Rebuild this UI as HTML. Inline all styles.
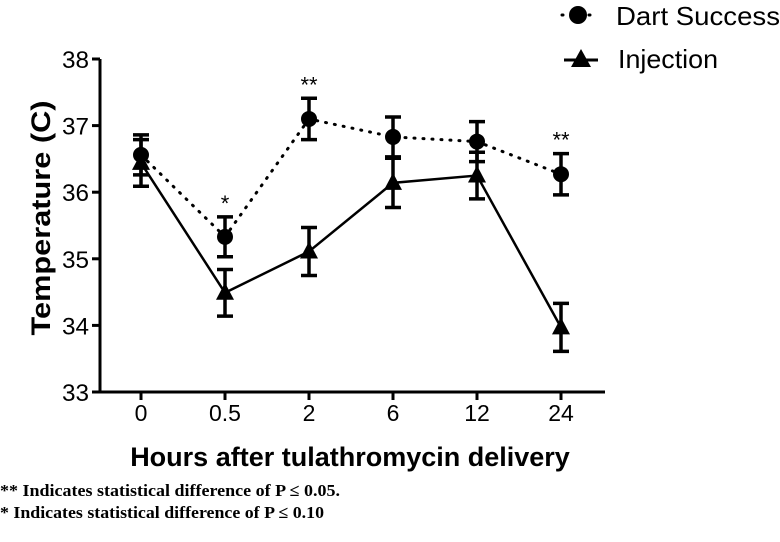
<!DOCTYPE html>
<html><head><meta charset="utf-8"><style>
body{margin:0;background:#fff;width:780px;height:537px;overflow:hidden}
svg text{font-family:"Liberation Sans",sans-serif}
</style></head><body>
<svg width="780" height="537" viewBox="0 0 780 537">
<g id="chart"></g>
<text x="0" y="496" style="font-family:'Liberation Serif',serif;font-weight:bold;font-size:17px" textLength="340" lengthAdjust="spacingAndGlyphs">** Indicates statistical difference of P ≤ 0.05.</text>
<text x="0" y="518" style="font-family:'Liberation Serif',serif;font-weight:bold;font-size:17px" textLength="324" lengthAdjust="spacingAndGlyphs">* Indicates statistical difference of P ≤ 0.10</text>
</svg>
<script>
const categories=["0","0.5","2","6","12","24"];
const dartValues=[36.56,35.33,37.1,36.83,36.76,36.27];
const dartErr=[0.3,0.3,0.31,0.3,0.3,0.31];
const injValues=[36.44,34.49,35.11,36.14,36.25,33.97];
const injErr=[0.35,0.35,0.36,0.37,0.35,0.36];
const sigLabels=["","*","**","","","**"];
const yTicks=[33,34,35,36,37,38];
const NS="http://www.w3.org/2000/svg";
const g=document.getElementById('chart');
const x0=141,dx=84,yTop=59,yBot=392,yMin=33,yMax=38;
const X=i=>x0+i*dx;
const Y=v=>yBot-(v-yMin)/(yMax-yMin)*(yBot-yTop);
function el(t,a){const e=document.createElementNS(NS,t);for(const k in a)e.setAttribute(k,a[k]);g.appendChild(e);return e;}
let e;
e=el('line',{x1:100,y1:Y(38),x2:100,y2:Y(33),stroke:'#000','stroke-width':3});


e=el('line',{x1:99,y1:Y(33),x2:605,y2:Y(33),stroke:'#000','stroke-width':3});


yTicks.forEach(v=>{
 e=el('line',{x1:92,y1:Y(v),x2:100,y2:Y(v),stroke:'#000','stroke-width':3});
 
 
 e=el('text',{x:89,y:Y(v)+9,'text-anchor':'end','font-size':24,textLength:27,lengthAdjust:'spacingAndGlyphs'});
 e.textContent=v;
 
 
});
categories.forEach((c,i)=>{
 e=el('line',{x1:X(i),y1:Y(33),x2:X(i),y2:Y(33)+8,stroke:'#000','stroke-width':3});
 
 
 e=el('text',{x:X(i),y:421,'text-anchor':'middle','font-size':23});
 e.textContent=c;
 
 
});
function series(vals,err,dash,name){
 e=el('polyline',{points:vals.map((v,i)=>X(i)+','+Y(v)).join(' '),fill:'none',stroke:'#000','stroke-width':dash?3:2.5,'stroke-dasharray':dash?'1 8':'none','stroke-linecap':'round'});
 
 
 vals.forEach((v,i)=>{
  const x=X(i),a=Y(v+err[i]),b=Y(v-err[i]);
  e=el('path',{d:`M${x},${a}V${b}M${x-8},${a}H${x+8}M${x-8},${b}H${x+8}`,stroke:'#000','stroke-width':3.5,fill:'none'});
  
  
  if(name==='dart'){e=el('circle',{cx:x,cy:Y(v),r:8,fill:'#000'});}
  else{const y=Y(v);e=el('path',{d:`M${x},${y-10}L${x+9},${y+7}L${x-9},${y+7}Z`,fill:'#000'});}
  
  
 });
}
series(injValues,injErr,false,'injection');
series(dartValues,dartErr,true,'dart');
sigLabels.forEach((s,i)=>{if(!s)return;
 e=el('text',{x:X(i),y:Y(dartValues[i]+dartErr[i])-6,'text-anchor':'middle','font-size':22});
 e.textContent=s;
 
 
});
e=el('text',{x:0,y:0,'text-anchor':'middle','font-size':27,'font-weight':'bold',transform:'translate(50,218) rotate(-90)',textLength:235,lengthAdjust:'spacingAndGlyphs'});
e.textContent='Temperature (C)';


e=el('text',{x:350,y:466,'text-anchor':'middle','font-size':27,'font-weight':'bold'});
e.textContent='Hours after tulathromycin delivery';


// legend
e=el('line',{x1:562,y1:15,x2:594,y2:15,stroke:'#000','stroke-width':3,'stroke-dasharray':'1 8','stroke-linecap':'round'});


e=el('circle',{cx:578,cy:15,r:9,fill:'#000'});


e=el('text',{x:616,y:25,'font-size':26,textLength:164,lengthAdjust:'spacingAndGlyphs'});
e.textContent='Dart Success';


e=el('line',{x1:564,y1:60,x2:598,y2:60,stroke:'#000','stroke-width':3});


e=el('path',{d:'M581,49L591,67L571,67Z',fill:'#000'});


e=el('text',{x:618,y:68,'font-size':26,textLength:100,lengthAdjust:'spacingAndGlyphs'});
e.textContent='Injection';


</script>
</body></html>
